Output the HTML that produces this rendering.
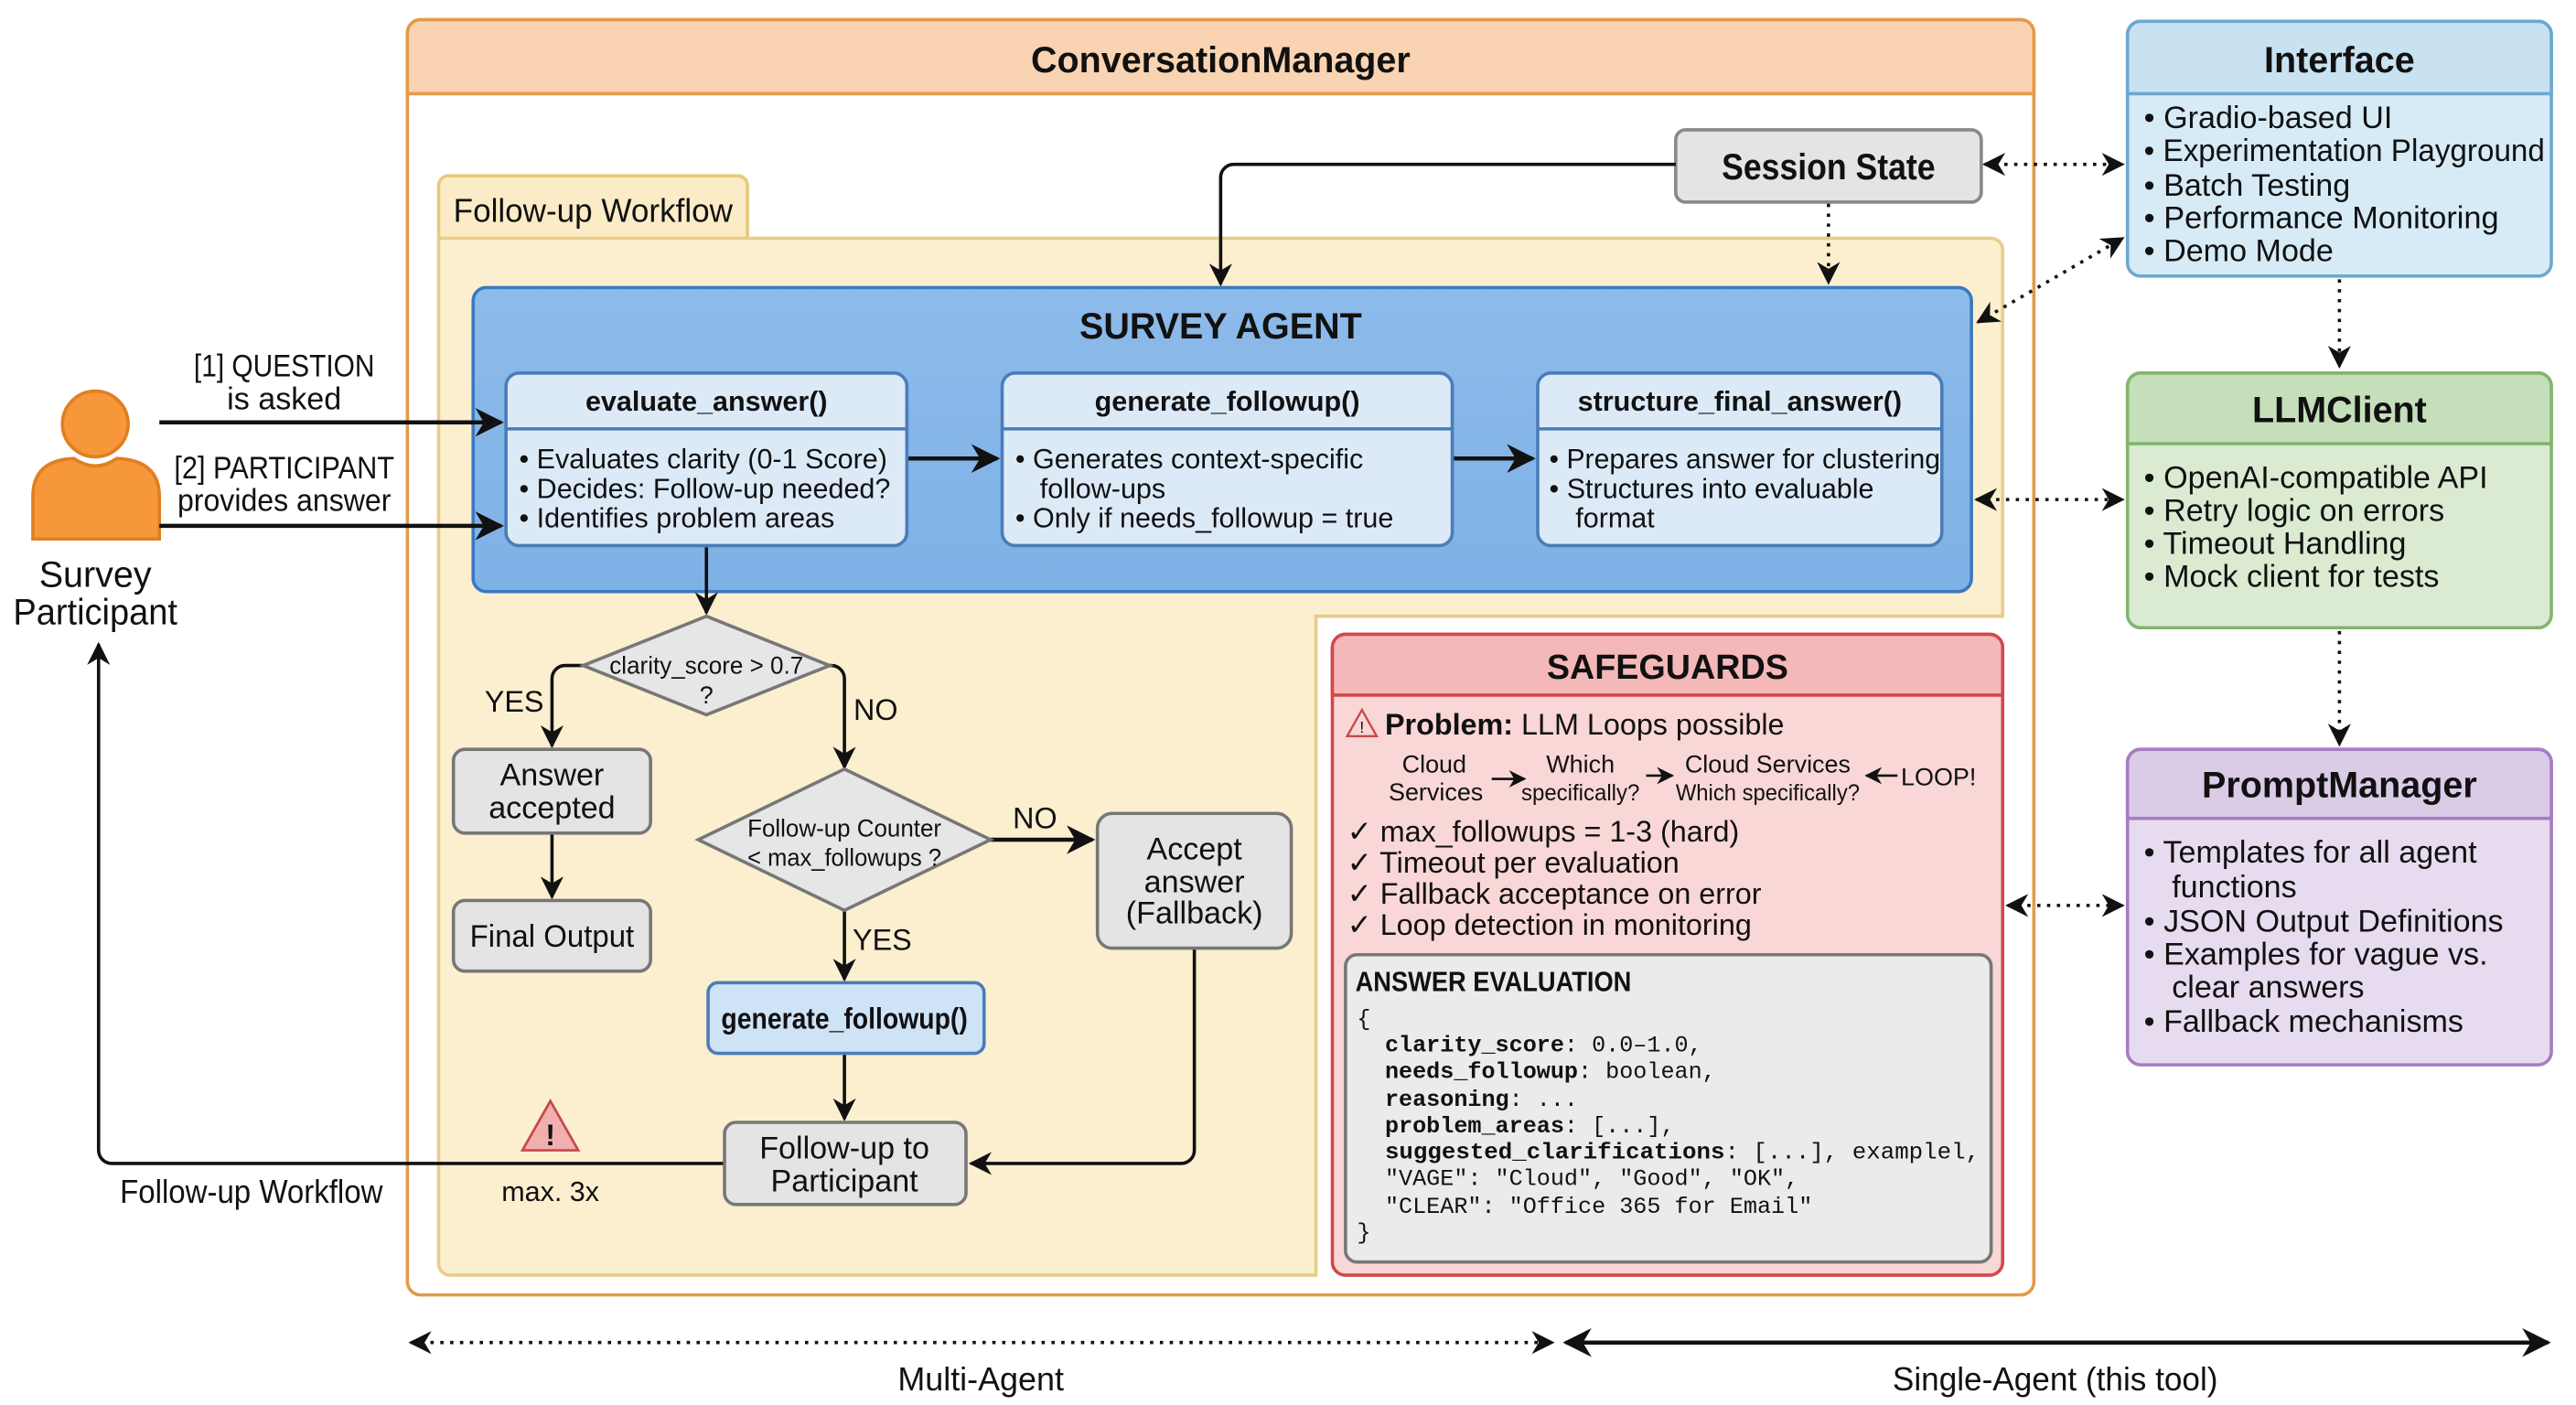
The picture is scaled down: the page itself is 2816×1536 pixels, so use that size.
<!DOCTYPE html>
<html><head><meta charset="utf-8"><style>
html,body{margin:0;padding:0;background:#fff;}
svg{display:block;}
text{font-family:"Liberation Sans Narrow","Liberation Sans",sans-serif;fill:#111;}
.b{font-weight:bold;}
.m{font-family:"Liberation Mono",monospace;}
.c{text-anchor:middle;}
</style></head><body>
<svg width="2816" height="1536" viewBox="0 0 1568 855" preserveAspectRatio="none" xmlns="http://www.w3.org/2000/svg">
<defs>
<marker id="a" viewBox="0 0 10 10" refX="9" refY="5" markerWidth="7" markerHeight="7" orient="auto-start-reverse"><path d="M0,0 L10,5 L0,10 L3,5 z" fill="#111"/></marker>
<linearGradient id="bg" x1="0" y1="0" x2="0" y2="1"><stop offset="0" stop-color="#8DBBEA"/><stop offset="1" stop-color="#7EB1E6"/></linearGradient>
</defs>
<rect width="1568" height="855" fill="#fff"/>

<!-- ConversationManager -->
<rect x="248" y="12" width="990" height="776" rx="8" fill="#fff" stroke="#E39A4A" stroke-width="2"/>
<path d="M248,57 V20 a8,8 0 0 1 8,-8 H1230 a8,8 0 0 1 8,8 V57 Z" fill="#FAD4B2" stroke="#E39A4A" stroke-width="2"/>
<text x="743" y="44" class="b c" font-size="22">ConversationManager</text>

<!-- Follow-up workflow area -->
<rect x="267" y="107" width="188" height="42" rx="6" fill="#FBEBC6" stroke="#E8C97E" stroke-width="2"/>
<text x="276" y="135" font-size="20" textLength="170" lengthAdjust="spacingAndGlyphs">Follow-up Workflow</text>
<path d="M267,145 H1212 a7,7 0 0 1 7,7 V375 H801 V776 H274 a7,7 0 0 1 -7,-7 Z" fill="#FCEFD0" stroke="#E8CC88" stroke-width="2"/>

<!-- Session State -->
<rect x="1020" y="79" width="186" height="44" rx="6" fill="#E4E4E4" stroke="#888" stroke-width="2"/>
<text x="1113" y="109" class="b c" font-size="22" textLength="130" lengthAdjust="spacingAndGlyphs">Session State</text>
<path d="M1020,100 H751 a8,8 0 0 0 -8,8 V173" fill="none" stroke="#111" stroke-width="2" marker-end="url(#a)"/>
<path d="M1113,124 V172" fill="none" stroke="#111" stroke-width="2" stroke-dasharray="2,4" marker-end="url(#a)"/>

<!-- dotted connectors to right column -->
<g fill="none" stroke="#111" stroke-width="2" stroke-dasharray="2,4">
<path d="M1208,100 H1292" marker-start="url(#a)" marker-end="url(#a)"/>
<path d="M1204,196 L1292,145" marker-start="url(#a)" marker-end="url(#a)"/>
<path d="M1203,304 H1292" marker-start="url(#a)" marker-end="url(#a)"/>
<path d="M1222,551 H1292" marker-start="url(#a)" marker-end="url(#a)"/>
<path d="M1424,170 V223" marker-end="url(#a)"/>
<path d="M1424,384 V453" marker-end="url(#a)"/>
<path d="M250,817 H945" marker-start="url(#a)" marker-end="url(#a)"/>
</g>
<path d="M953,817 H1551" fill="none" stroke="#111" stroke-width="2.5" marker-start="url(#a)" marker-end="url(#a)"/>
<text x="597" y="846" class="c" font-size="20">Multi-Agent</text>
<text x="1251" y="846" class="c" font-size="20" textLength="198" lengthAdjust="spacingAndGlyphs">Single-Agent (this tool)</text>

<!-- SURVEY AGENT -->
<rect x="288" y="175" width="912" height="185" rx="8" fill="url(#bg)" stroke="#3A78C0" stroke-width="2"/>
<text x="743" y="206" class="b c" font-size="22">SURVEY AGENT</text>
<g stroke="#4A7DB8" stroke-width="2">
<rect x="308" y="227" width="244" height="105" rx="8" fill="#DCEAF8"/>
<line x1="308" y1="261" x2="552" y2="261"/>
<rect x="610" y="227" width="274" height="105" rx="8" fill="#DCEAF8"/>
<line x1="610" y1="261" x2="884" y2="261"/>
<rect x="936" y="227" width="246" height="105" rx="8" fill="#DCEAF8"/>
<line x1="936" y1="261" x2="1182" y2="261"/>
</g>
<text x="430" y="250" class="b c" font-size="17">evaluate_answer()</text>
<text x="747" y="250" class="b c" font-size="17">generate_followup()</text>
<text x="1059" y="250" class="b c" font-size="17">structure_final_answer()</text>
<g font-size="17">
<text x="316" y="285">•  Evaluates clarity (0-1 Score)</text>
<text x="316" y="303">•  Decides: Follow-up needed?</text>
<text x="316" y="321">•  Identifies problem areas</text>
<text x="618" y="285">•  Generates context-specific</text>
<text x="633" y="303">follow-ups</text>
<text x="618" y="321">•  Only if needs_followup = true</text>
<text x="943" y="285" textLength="238" lengthAdjust="spacingAndGlyphs">•  Prepares answer for clustering</text>
<text x="943" y="303">•  Structures into evaluable</text>
<text x="959" y="321">format</text>
</g>
<g fill="none" stroke="#111" stroke-width="2.5">
<path d="M553,279 H607" marker-end="url(#a)"/>
<path d="M885,279 H933" marker-end="url(#a)"/>
</g>

<!-- person -->
<circle cx="58" cy="258" r="20" fill="#F5973A" stroke="#E07F20" stroke-width="2"/>
<path d="M20,328 V302 Q20,280 45,279 Q58,288 71,279 Q97,280 97,302 V328 Z" fill="#F5973A" stroke="#E07F20" stroke-width="2"/>
<text x="58" y="357" class="c" font-size="22">Survey</text>
<text x="58" y="380" class="c" font-size="22" textLength="100" lengthAdjust="spacingAndGlyphs">Participant</text>
<text x="173" y="229" class="c" font-size="19" textLength="110" lengthAdjust="spacingAndGlyphs">[1] QUESTION</text>
<text x="173" y="249" class="c" font-size="19">is asked</text>
<text x="173" y="291" class="c" font-size="19" textLength="134" lengthAdjust="spacingAndGlyphs">[2] PARTICIPANT</text>
<text x="173" y="311" class="c" font-size="19" textLength="130" lengthAdjust="spacingAndGlyphs">provides answer</text>
<g fill="none" stroke="#111" stroke-width="2.5">
<path d="M97,257 H305" marker-end="url(#a)"/>
<path d="M97,320 H305" marker-end="url(#a)"/>
</g>
<path d="M441,708 H68 a8,8 0 0 1 -8,-8 V392" fill="none" stroke="#111" stroke-width="2" marker-end="url(#a)"/>
<text x="153" y="732" class="c" font-size="20" textLength="160" lengthAdjust="spacingAndGlyphs">Follow-up Workflow</text>
<text x="335" y="731" class="c" font-size="17">max. 3x</text>
<path d="M335,670 L352,700 H318 Z" fill="#F2AFAF" stroke="#C84848" stroke-width="1.5"/>
<text x="335" y="697" class="b c" font-size="18">!</text>

<!-- flowchart -->
<g fill="none" stroke="#111" stroke-width="2">
<path d="M430,333 V373" marker-end="url(#a)"/>
<path d="M355,405 H344 a8,8 0 0 0 -8,8 V454" marker-end="url(#a)"/>
<path d="M505,405 H506 a8,8 0 0 1 8,8 V467" marker-end="url(#a)"/>
<path d="M336,507 V546" marker-end="url(#a)"/>
<path d="M603,511 H665" stroke-width="2.5" marker-end="url(#a)"/>
<path d="M514,554 V596" marker-end="url(#a)"/>
<path d="M514,641 V681" marker-end="url(#a)"/>
<path d="M727,577 V700 a8,8 0 0 1 -8,8 H591" marker-end="url(#a)"/>
</g>
<polygon points="430,375 505,405 430,435 355,405" fill="#E6E6E6" stroke="#777" stroke-width="2"/>
<text x="430" y="410" class="c" font-size="15" textLength="118" lengthAdjust="spacingAndGlyphs">clarity_score &gt; 0.7</text>
<text x="430" y="428" class="c" font-size="15">?</text>
<text x="313" y="433" class="c" font-size="18">YES</text>
<text x="533" y="438" class="c" font-size="18">NO</text>
<polygon points="514,468 603,511 514,554 425,511" fill="#E6E6E6" stroke="#777" stroke-width="2"/>
<text x="514" y="509" class="c" font-size="15" textLength="118" lengthAdjust="spacingAndGlyphs">Follow-up Counter</text>
<text x="514" y="527" class="c" font-size="15" textLength="118" lengthAdjust="spacingAndGlyphs">&lt; max_followups ?</text>
<text x="630" y="504" class="c" font-size="18">NO</text>
<text x="537" y="578" class="c" font-size="18">YES</text>
<g stroke="#777" stroke-width="2" fill="#E4E4E4">
<rect x="276" y="456" width="120" height="51" rx="7"/>
<rect x="276" y="548" width="120" height="43" rx="7"/>
<rect x="668" y="495" width="118" height="82" rx="9"/>
<rect x="441" y="683" width="147" height="50" rx="7"/>
</g>
<rect x="431" y="598" width="168" height="43" rx="6" fill="#CFE3F7" stroke="#4A7DB8" stroke-width="2"/>
<g font-size="19" class="c">
<text x="336" y="478" class="c">Answer</text>
<text x="336" y="498" class="c">accepted</text>
<text x="336" y="576" class="c" textLength="100" lengthAdjust="spacingAndGlyphs">Final Output</text>
<text x="727" y="523" class="c">Accept</text>
<text x="727" y="543" class="c">answer</text>
<text x="727" y="562" class="c">(Fallback)</text>
<text x="514" y="705" class="c">Follow-up to</text>
<text x="514" y="725" class="c">Participant</text>
</g>
<text x="514" y="626" class="b c" font-size="18" textLength="150" lengthAdjust="spacingAndGlyphs">generate_followup()</text>

<!-- SAFEGUARDS -->
<rect x="811" y="386" width="408" height="390" rx="8" fill="#F9D7D6" stroke="#D0484E" stroke-width="2"/>
<path d="M811,423 V394 a8,8 0 0 1 8,-8 H1211 a8,8 0 0 1 8,8 V423 Z" fill="#F4B8B8" stroke="#D0484E" stroke-width="2"/>
<text x="1015" y="413" class="b c" font-size="21">SAFEGUARDS</text>
<path d="M829,432 L838,448 H820 Z" fill="none" stroke="#C84848" stroke-width="1.3"/>
<text x="829" y="446" class="c" font-size="10" fill="#C84848">!</text>
<text x="843" y="447" font-size="18"><tspan class="b">Problem:</tspan> LLM Loops possible</text>
<g font-size="15" class="c">
<text x="873" y="470" class="c">Cloud</text>
<text x="874" y="487" class="c">Services</text>
<text x="962" y="470" class="c">Which</text>
<text x="962" y="487" class="c" font-size="14" textLength="72" lengthAdjust="spacingAndGlyphs">specifically?</text>
<text x="1076" y="470" class="c">Cloud Services</text>
<text x="1076" y="487" class="c" font-size="14" textLength="112" lengthAdjust="spacingAndGlyphs">Which specifically?</text>
<text x="1180" y="478" class="c">LOOP!</text>
</g>
<g fill="none" stroke="#111" stroke-width="1.5">
<path d="M908,474 H928" marker-end="url(#a)"/>
<path d="M1002,472 H1018" marker-end="url(#a)"/>
<path d="M1155,472 H1136" marker-end="url(#a)"/>
</g>
<g font-size="18">
<text x="820" y="512">✓ max_followups = 1-3 (hard)</text>
<text x="820" y="531">✓ Timeout per evaluation</text>
<text x="820" y="550">✓ Fallback acceptance on error</text>
<text x="820" y="569">✓ Loop detection in monitoring</text>
</g>
<rect x="819" y="581" width="393" height="187" rx="7" fill="#EBEBEB" stroke="#777" stroke-width="2"/>
<text x="825" y="603" class="b" font-size="17" textLength="168" lengthAdjust="spacingAndGlyphs">ANSWER EVALUATION</text>
<g class="m" font-size="14">
<text x="826" y="624" class="m">{</text>
<text x="843" y="640" class="m"><tspan font-weight="bold">clarity_score</tspan>: 0.0–1.0,</text>
<text x="843" y="656" class="m"><tspan font-weight="bold">needs_followup</tspan>: boolean,</text>
<text x="843" y="673" class="m"><tspan font-weight="bold">reasoning</tspan>: ...</text>
<text x="843" y="689" class="m"><tspan font-weight="bold">problem_areas</tspan>: [...],</text>
<text x="843" y="705" class="m" textLength="362" lengthAdjust="spacingAndGlyphs"><tspan font-weight="bold">suggested_clarifications</tspan>: [...], examplel,</text>
<text x="843" y="721" class="m">"VAGE": "Cloud", "Good", "OK",</text>
<text x="843" y="738" class="m">"CLEAR": "Office 365 for Email"</text>
<text x="826" y="754" class="m">}</text>
</g>

<!-- Interface -->
<rect x="1295" y="13" width="258" height="155" rx="8" fill="#D6EBF6" stroke="#6BA8D0" stroke-width="2"/>
<path d="M1295,57 V21 a8,8 0 0 1 8,-8 H1545 a8,8 0 0 1 8,8 V57 Z" fill="#C8E2F1" stroke="#6BA8D0" stroke-width="2"/>
<text x="1424" y="44" class="b c" font-size="22">Interface</text>
<g font-size="19">
<text x="1305" y="78">•  Gradio-based UI</text>
<text x="1305" y="98" textLength="244" lengthAdjust="spacingAndGlyphs">•  Experimentation Playground</text>
<text x="1305" y="119">•  Batch Testing</text>
<text x="1305" y="139" textLength="216" lengthAdjust="spacingAndGlyphs">•  Performance Monitoring</text>
<text x="1305" y="159">•  Demo Mode</text>
</g>

<!-- LLMClient -->
<rect x="1295" y="227" width="258" height="155" rx="8" fill="#DAEBD2" stroke="#82B56F" stroke-width="2"/>
<path d="M1295,270 V235 a8,8 0 0 1 8,-8 H1545 a8,8 0 0 1 8,8 V270 Z" fill="#C6DFBB" stroke="#82B56F" stroke-width="2"/>
<text x="1424" y="257" class="b c" font-size="22">LLMClient</text>
<g font-size="19">
<text x="1305" y="297">•  OpenAI-compatible API</text>
<text x="1305" y="317">•  Retry logic on errors</text>
<text x="1305" y="337">•  Timeout Handling</text>
<text x="1305" y="357">•  Mock client for tests</text>
</g>

<!-- PromptManager -->
<rect x="1295" y="456" width="258" height="192" rx="8" fill="#E7DCEF" stroke="#A77CC4" stroke-width="2"/>
<path d="M1295,498 V464 a8,8 0 0 1 8,-8 H1545 a8,8 0 0 1 8,8 V498 Z" fill="#DACBE7" stroke="#A77CC4" stroke-width="2"/>
<text x="1424" y="485" class="b c" font-size="22">PromptManager</text>
<g font-size="19">
<text x="1305" y="525">•  Templates for all agent</text>
<text x="1322" y="546">functions</text>
<text x="1305" y="567">•  JSON Output Definitions</text>
<text x="1305" y="587">•  Examples for vague vs.</text>
<text x="1322" y="607">clear answers</text>
<text x="1305" y="628">•  Fallback mechanisms</text>
</g>
</svg>
</body></html>
